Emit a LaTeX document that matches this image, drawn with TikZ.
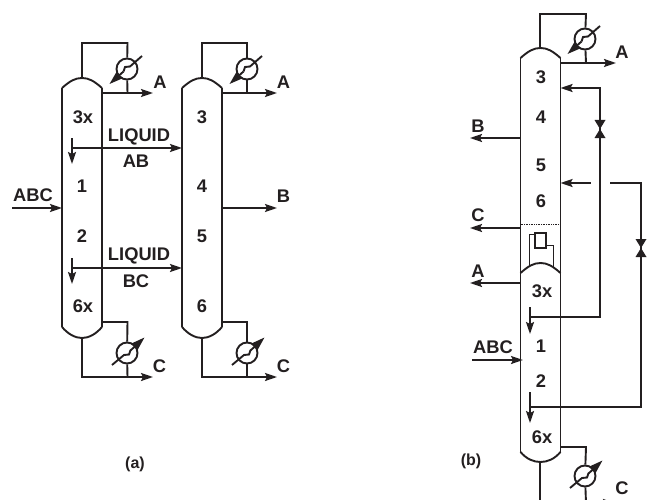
\documentclass[tikz,border=0pt]{standalone}
\usepackage{fontspec}
\setmainfont{Liberation Sans}
\usetikzlibrary{arrows.meta}
\definecolor{ink}{HTML}{231F20}
\tikzset{
 x=1pt,y=-1pt,
 pipe/.style={draw=ink,line width=1.9pt,line join=miter},
 flow/.style={pipe,-{Stealth[length=12pt,width=8pt,inset=2pt]}},
 hxflow/.style={pipe,-{Stealth[length=14pt,width=9pt,inset=2pt]}},
 thinline/.style={draw=ink,line width=0.7pt},
 lbl/.style={text=ink,font=\bfseries\fontsize{18.3}{18.3}\selectfont,inner sep=0pt},
 small/.style={lbl,font=\bfseries\fontsize{16}{16}\selectfont},
 hx/.style={circle,draw=ink,line width=1.9pt,minimum size=21pt,inner sep=0pt},
}
\newcommand{\vessel}[4]{%
 \draw[pipe] (#1,#4) .. controls (#1+8,#4-7) and (#1+13,#3) .. (#1+20,#3)
   .. controls (#2-13,#3) and (#2-8,#4-7) .. (#2,#4);
}
\newcommand{\bottomcap}[4]{%
 \draw[pipe] (#1,#3) .. controls (#1+6,#3+7) and (#1+13,#4) .. (#1+20,#4)
   .. controls (#2-13,#4) and (#2-6,#3+7) .. (#2,#3);
}
\newcommand{\hxtop}[1]{%
 \draw[pipe] (#1) ++(15,-13) -- ++(-12,10.5) -- ++(-5,0.5) -- ++(-1.5,4.5);
 \draw[hxflow] (#1) ++(-3.5,2.5) -- ++(-14,12.5);
}
\newcommand{\hxbot}[1]{%
 \draw[pipe] (#1) ++(-15,12) -- ++(12,-10) -- ++(5,-0.5) -- ++(1.5,-4.5);
 \draw[hxflow] (#1) ++(3.5,-2.5) -- ++(14,-13);
}
\newcommand{\valve}[1]{%
 \fill[ink] (#1) ++(-5.5,-9) -- ++(11,0) -- ++(-11,18) -- ++(11,0) -- cycle;
}
\begin{document}
\begin{tikzpicture}
\useasboundingbox (0,0) rectangle (650,500);
% ===== (a) column 1
\draw[pipe] (62,88) -- (62,327);
\draw[pipe] (102,88) -- (102,327);
\vessel{62}{102}{78}{88}
\bottomcap{62}{102}{327}{338}
\node[hx] (c1) at (127,69) {};
\draw[pipe] (82,78) -- (82,43) -- (127.5,43) -- (c1);
\draw[pipe] (c1) -- (127.5,93);
\draw[flow] (102,93) -- (153,93);
\hxtop{c1}
\node[lbl] (a1) at (160,82.5) {A};
\node[hx] (r1) at (127,353) {};
\draw[pipe] (102,322) -- (127.5,322) -- (r1);
\draw[pipe] (r1) -- (127.5,377);
\draw[flow] (82,338) -- (82,377) -- (153,377);
\hxbot{r1}
\node[lbl] (c1l) at (159.5,366) {C};
% ===== (a) column 2
\draw[pipe] (182,88) -- (182,327);
\draw[pipe] (222,88) -- (222,327);
\vessel{182}{222}{78}{88}
\bottomcap{182}{222}{327}{338}
\node[hx] (c2) at (247,69) {};
\draw[pipe] (202,78) -- (202,43) -- (247,43) -- (c2);
\draw[pipe] (c2) -- (247,93);
\draw[flow] (222,93) -- (277,93);
\hxtop{c2}
\node[lbl] (a2) at (283.5,82.5) {A};
\node[hx] (r2) at (247,353) {};
\draw[pipe] (222,322) -- (247,322) -- (r2);
\draw[pipe] (r2) -- (247,377);
\draw[flow] (202,338) -- (202,377) -- (277,377);
\hxbot{r2}
\node[lbl] (c2l) at (283.5,366) {C};
% links
\draw[flow] (72,148) -- (182,148);
\draw[flow] (72,138) -- (72,164);
\draw[flow] (72,268) -- (182,268);
\draw[flow] (72,258) -- (72,284);
\draw[flow] (12,208) -- (62,208);
\draw[flow] (222,208) -- (277,208);
\node[lbl] (n1) at (139,136.5) {LIQUID};
\node[lbl] (n2) at (136,161) {AB};
\node[lbl] (n3) at (139,256) {LIQUID};
\node[lbl] (n4) at (136,281) {BC};
\node[lbl] (n5) at (33,195.5) {ABC};
\node[lbl] (n6) at (283.5,196) {B};
\node[lbl] at (83,117) {3x};
\node[lbl] at (82,186) {1};
\node[lbl] at (82,236) {2};
\node[lbl] at (83,306) {6x};
\node[lbl] at (202,117) {3};
\node[lbl] at (202,186) {4};
\node[lbl] at (202,236) {5};
\node[lbl] at (202,306) {6};
\node[small] at (135,464) {(a)};
\node[small] at (471,461) {(b)};
% ===== (b)
\draw[pipe] (520.5,58) -- (520.5,452);
\draw[pipe] (560.5,58) -- (560.5,452);
\vessel{520.5}{560.5}{48}{58}
\vessel{520.5}{560.5}{263}{273}
\bottomcap{520.5}{560.5}{452}{462}
\node[hx] (c3) at (585,39) {};
\draw[pipe] (540,48) -- (540,14) -- (586,14) -- (c3);
\draw[pipe] (c3) -- (586,63);
\draw[flow] (560.5,63) -- (616,63);
\hxtop{c3}
\node[lbl] at (622,52) {A};
\draw[flow] (600,129) -- (600,88) -- (560.5,88);
\draw[pipe] (600,129) -- (600,317) -- (531,317);
\valve{600,129}
\draw[flow] (530,307) -- (530,334);
\draw[flow] (590.5,183) -- (560.5,183);
\draw[pipe] (610,183) -- (641,183) -- (641,407) -- (531,407);
\valve{641,248}
\draw[flow] (530,392) -- (530,423);
\draw[flow] (520.5,138) -- (470,138);
\draw[flow] (520.5,228) -- (470,228);
\draw[flow] (520.5,283) -- (470,283);
\draw[flow] (472,360) -- (523,360);
\node[lbl] at (478,126) {B};
\node[lbl] at (478,215) {C};
\node[lbl] at (478,271) {A};
\node[lbl] at (493,347.5) {ABC};
\draw[thinline,densely dotted] (520.5,224) -- (560.5,224);
\draw[draw=ink,line width=1.9pt] (535,233) rectangle (546,248);
\draw[thinline] (535,234) -- (529,234) -- (529,266);
\draw[thinline] (546,245) -- (553.7,245) -- (553.7,267);
\node[lbl] at (541,77) {3};
\node[lbl] at (541,117) {4};
\node[lbl] at (541,165) {5};
\node[lbl] at (541,201) {6};
\node[lbl] at (542,291) {3x};
\node[lbl] at (541,346) {1};
\node[lbl] at (541,381) {2};
\node[lbl] at (542,437) {6x};
\node[hx] (r3) at (585,476) {};
\draw[pipe] (560.5,447) -- (586,447) -- (r3);
\draw[pipe] (r3) -- (586,503);
\draw[flow] (540,462) -- (540,503) -- (615,503);
\hxbot{r3}
\node[lbl] at (622,488) {C};
\end{tikzpicture}
\end{document}
